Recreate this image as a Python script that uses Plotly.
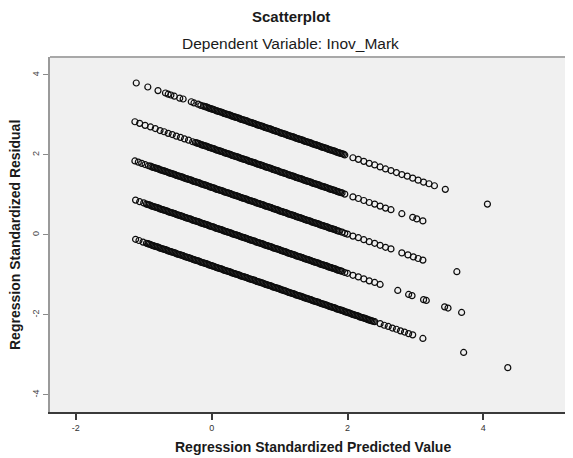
import plotly.graph_objects as go

# ---- tick labels / titles ----
x_ticks = [-2, 0, 2, 4]
y_ticks = [-4, -2, 0, 2, 4]
title_main = "Scatterplot"
title_sub = "Dependent Variable: Inov_Mark"
x_title = "Regression Standardized Predicted Value"
y_title = "Regression Standardized Residual"

# ---- data (predicted value, residual), one band per DV level ----
band1_x = [-1.11, -0.94, -0.79, -0.68, -0.64, -0.60, -0.55, -0.47, -0.42, -0.30, -0.26,
           -0.20, -0.16, -0.12, -0.08, -0.04, 0.00, 0.04, 0.08, 0.12, 0.16, 0.20, 0.24, 0.28, 0.32, 0.36,
           0.40, 0.44, 0.48, 0.52, 0.56, 0.60, 0.64, 0.68, 0.72, 0.76, 0.80, 0.84, 0.88, 0.92, 0.96,
           1.00, 1.04, 1.08, 1.12, 1.16, 1.20, 1.24, 1.28, 1.32, 1.36, 1.40, 1.44, 1.48, 1.52, 1.56,
           1.60, 1.64, 1.68, 1.72, 1.76, 1.80, 1.84, 1.88, 1.92, 1.96,
           2.08, 2.16, 2.24, 2.32, 2.40, 2.48, 2.56, 2.64, 2.72, 2.80, 2.88, 2.96, 3.04, 3.12, 3.20, 3.28,
           3.44, 4.06]
band1_y = [3.80, 3.70, 3.61, 3.55, 3.52, 3.50, 3.47, 3.42, 3.40, 3.33, 3.30,
           3.27, 3.24, 3.22, 3.20, 3.17, 3.15, 3.13, 3.10, 3.08, 3.06, 3.03, 3.01, 2.99, 2.96, 2.94,
           2.92, 2.89, 2.87, 2.85, 2.82, 2.80, 2.78, 2.75, 2.73, 2.71, 2.68, 2.66, 2.64, 2.61, 2.59,
           2.56, 2.54, 2.52, 2.49, 2.47, 2.45, 2.42, 2.40, 2.38, 2.35, 2.33, 2.31, 2.28, 2.26, 2.24,
           2.21, 2.19, 2.17, 2.14, 2.12, 2.10, 2.07, 2.05, 2.03, 2.00,
           1.93, 1.89, 1.84, 1.79, 1.75, 1.70, 1.65, 1.61, 1.56, 1.51, 1.47, 1.42, 1.37, 1.32, 1.28, 1.23,
           1.14, 0.77]
band1_core_x = [-0.10, -0.06, -0.02, 0.02, 0.06, 0.10, 0.14, 0.18, 0.22, 0.26, 0.30, 0.34, 0.38,
                0.42, 0.46, 0.50, 0.54, 0.58, 0.62, 0.66, 0.70, 0.74, 0.78, 0.82, 0.86, 0.90, 0.94, 0.98,
                1.02, 1.06, 1.10, 1.14, 1.18, 1.22, 1.26, 1.30, 1.34, 1.38, 1.42, 1.46, 1.50, 1.54, 1.58,
                1.62, 1.66, 1.70, 1.74, 1.78, 1.82, 1.86, 1.90, 1.94]
band1_core_y = [3.21, 3.19, 3.16, 3.14, 3.11, 3.09, 3.07, 3.04, 3.02, 3.00, 2.97, 2.95, 2.93,
                2.90, 2.88, 2.86, 2.83, 2.81, 2.79, 2.76, 2.74, 2.72, 2.69, 2.67, 2.65, 2.62, 2.60, 2.58,
                2.55, 2.53, 2.51, 2.48, 2.46, 2.44, 2.41, 2.39, 2.37, 2.34, 2.32, 2.30, 2.27, 2.25, 2.23,
                2.20, 2.18, 2.16, 2.13, 2.11, 2.09, 2.06, 2.04, 2.02]

band2_x = [-1.13, -1.06, -0.98, -0.90, -0.83, -0.76, -0.70, -0.64, -0.58, -0.52, -0.46, -0.40, -0.34,
           -0.28, -0.24,
           -0.20, -0.16, -0.12, -0.08, -0.04, 0.00, 0.04, 0.08, 0.12, 0.16, 0.20, 0.24, 0.28, 0.32, 0.36,
           0.40, 0.44, 0.48, 0.52, 0.56, 0.60, 0.64, 0.68, 0.72, 0.76, 0.80, 0.84, 0.88, 0.92, 0.96,
           1.00, 1.04, 1.08, 1.12, 1.16, 1.20, 1.24, 1.28, 1.32, 1.36, 1.40, 1.44, 1.48, 1.52, 1.56,
           1.60, 1.64, 1.68, 1.72, 1.76, 1.80, 1.84, 1.88, 1.92, 1.96,
           2.08, 2.16, 2.24, 2.32, 2.40, 2.48, 2.56, 2.64, 2.80, 2.96, 3.02, 3.11]
band2_y = [2.83, 2.79, 2.74, 2.70, 2.66, 2.61, 2.58, 2.54, 2.51, 2.47, 2.44, 2.40, 2.37,
           2.33, 2.31,
           2.29, 2.26, 2.24, 2.22, 2.19, 2.17, 2.15, 2.12, 2.10, 2.08, 2.05, 2.03, 2.01, 1.98, 1.96,
           1.94, 1.91, 1.89, 1.87, 1.84, 1.82, 1.80, 1.77, 1.75, 1.73, 1.70, 1.68, 1.66, 1.63, 1.61,
           1.58, 1.56, 1.54, 1.51, 1.49, 1.47, 1.44, 1.42, 1.40, 1.37, 1.35, 1.33, 1.30, 1.28, 1.26,
           1.23, 1.21, 1.19, 1.16, 1.14, 1.12, 1.09, 1.07, 1.05, 1.02,
           0.95, 0.91, 0.86, 0.81, 0.77, 0.72, 0.67, 0.63, 0.53, 0.44, 0.40, 0.35]
band2_core_x = [-0.22, -0.18, -0.14, -0.10, -0.06, -0.02, 0.02, 0.06, 0.10, 0.14, 0.18, 0.22, 0.26,
                0.30, 0.34, 0.38, 0.42, 0.46, 0.50, 0.54, 0.58, 0.62, 0.66, 0.70, 0.74, 0.78, 0.82, 0.86,
                0.90, 0.94, 0.98, 1.02, 1.06, 1.10, 1.14, 1.18, 1.22, 1.26, 1.30, 1.34, 1.38, 1.42, 1.46,
                1.50, 1.54, 1.58, 1.62, 1.66, 1.70, 1.74, 1.78, 1.82, 1.86, 1.90]
band2_core_y = [2.30, 2.28, 2.25, 2.23, 2.21, 2.18, 2.16, 2.13, 2.11, 2.09, 2.06, 2.04, 2.02,
                1.99, 1.97, 1.95, 1.92, 1.90, 1.88, 1.85, 1.83, 1.81, 1.78, 1.76, 1.74, 1.71, 1.69, 1.67,
                1.64, 1.62, 1.60, 1.57, 1.55, 1.53, 1.50, 1.48, 1.46, 1.43, 1.41, 1.39, 1.36, 1.34, 1.32,
                1.29, 1.27, 1.25, 1.22, 1.20, 1.18, 1.15, 1.13, 1.11, 1.08, 1.06]

band3_x = [-1.13, -1.08, -1.03, -0.98, -0.93,
           -0.88, -0.84, -0.80, -0.76, -0.72, -0.68, -0.64, -0.60, -0.56, -0.52, -0.48, -0.44, -0.40,
           -0.36, -0.32, -0.28, -0.24,
           -0.20, -0.16, -0.12, -0.08, -0.04, 0.00, 0.04, 0.08, 0.12, 0.16, 0.20, 0.24, 0.28, 0.32, 0.36,
           0.40, 0.44, 0.48, 0.52, 0.56, 0.60, 0.64, 0.68, 0.72, 0.76, 0.80, 0.84, 0.88, 0.92, 0.96,
           1.00, 1.04, 1.08, 1.12, 1.16, 1.20, 1.24, 1.28, 1.32, 1.36, 1.40, 1.44, 1.48, 1.52, 1.56,
           1.60, 1.64, 1.68, 1.72, 1.76, 1.80, 1.84, 1.88, 1.92, 1.96, 2.00,
           2.08, 2.16, 2.24, 2.32, 2.40, 2.48, 2.56, 2.64, 2.80, 2.89, 2.97, 3.04, 3.11, 3.61]
band3_y = [1.85, 1.82, 1.79, 1.76, 1.73,
           1.70, 1.68, 1.66, 1.63, 1.61, 1.59, 1.56, 1.54, 1.52, 1.49, 1.47, 1.45, 1.42,
           1.40, 1.38, 1.35, 1.33,
           1.31, 1.28, 1.26, 1.24, 1.21, 1.19, 1.17, 1.14, 1.12, 1.10, 1.07, 1.05, 1.03, 1.00, 0.98,
           0.96, 0.93, 0.91, 0.89, 0.86, 0.84, 0.82, 0.79, 0.77, 0.75, 0.72, 0.70, 0.68, 0.65, 0.63,
           0.60, 0.58, 0.56, 0.53, 0.51, 0.49, 0.46, 0.44, 0.42, 0.39, 0.37, 0.35, 0.32, 0.30, 0.28,
           0.25, 0.23, 0.21, 0.18, 0.16, 0.14, 0.11, 0.09, 0.07, 0.04, 0.02,
           -0.03, -0.07, -0.12, -0.17, -0.21, -0.26, -0.31, -0.35, -0.45, -0.50, -0.55, -0.59, -0.63, -0.92]
band3_core_x = [-0.90, -0.86, -0.82, -0.78, -0.74, -0.70, -0.66, -0.62, -0.58, -0.54, -0.50, -0.46,
                -0.42, -0.38, -0.34, -0.30, -0.26, -0.22, -0.18, -0.14,
                -0.10, -0.06, -0.02, 0.02, 0.06, 0.10, 0.14, 0.18, 0.22, 0.26, 0.30, 0.34, 0.38,
                0.42, 0.46, 0.50, 0.54, 0.58, 0.62, 0.66, 0.70, 0.74, 0.78, 0.82, 0.86, 0.90, 0.94, 0.98,
                1.02, 1.06, 1.10, 1.14, 1.18, 1.22, 1.26, 1.30, 1.34, 1.38, 1.42, 1.46, 1.50, 1.54, 1.58,
                1.62, 1.66, 1.70, 1.74, 1.78, 1.82, 1.86]
band3_core_y = [1.72, 1.69, 1.67, 1.65, 1.62, 1.60, 1.58, 1.55, 1.53, 1.51, 1.48, 1.46,
                1.44, 1.41, 1.39, 1.37, 1.34, 1.32, 1.30, 1.27,
                1.25, 1.23, 1.20, 1.18, 1.15, 1.13, 1.11, 1.08, 1.06, 1.04, 1.01, 0.99, 0.97,
                0.94, 0.92, 0.90, 0.87, 0.85, 0.83, 0.80, 0.78, 0.76, 0.73, 0.71, 0.69, 0.66, 0.64, 0.62,
                0.59, 0.57, 0.55, 0.52, 0.50, 0.48, 0.45, 0.43, 0.41, 0.38, 0.36, 0.34, 0.31, 0.29, 0.27,
                0.24, 0.22, 0.20, 0.17, 0.15, 0.13, 0.10]

band4_x = [-1.12, -1.06, -1.00,
           -0.96, -0.92,
           -0.88, -0.84, -0.80, -0.76, -0.72, -0.68, -0.64, -0.60, -0.56, -0.52, -0.48, -0.44, -0.40,
           -0.36, -0.32, -0.28, -0.24,
           -0.20, -0.16, -0.12, -0.08, -0.04, 0.00, 0.04, 0.08, 0.12, 0.16, 0.20, 0.24, 0.28, 0.32, 0.36,
           0.40, 0.44, 0.48, 0.52, 0.56, 0.60, 0.64, 0.68, 0.72, 0.76, 0.80, 0.84, 0.88, 0.92, 0.96,
           1.00, 1.04, 1.08, 1.12, 1.16, 1.20, 1.24, 1.28, 1.32, 1.36, 1.40, 1.44, 1.48, 1.52, 1.56,
           1.60, 1.64, 1.68, 1.72, 1.76, 1.80, 1.84, 1.88, 1.92, 1.96, 2.00,
           2.08, 2.16, 2.24, 2.32, 2.40, 2.48, 2.74, 2.90, 2.95, 3.12, 3.16, 3.43, 3.48, 3.68]
band4_y = [0.87, 0.83, 0.80,
           0.77, 0.75,
           0.72, 0.70, 0.68, 0.65, 0.63, 0.61, 0.58, 0.56, 0.54, 0.51, 0.49, 0.47, 0.44,
           0.42, 0.40, 0.37, 0.35,
           0.33, 0.30, 0.28, 0.26, 0.23, 0.21, 0.19, 0.16, 0.14, 0.12, 0.09, 0.07, 0.05, 0.02, 0.00,
           -0.02, -0.05, -0.07, -0.09, -0.12, -0.14, -0.16, -0.19, -0.21, -0.23, -0.26, -0.28, -0.30, -0.33, -0.35,
           -0.37, -0.40, -0.42, -0.45, -0.47, -0.49, -0.52, -0.54, -0.56, -0.59, -0.61, -0.63, -0.66, -0.68, -0.70,
           -0.73, -0.75, -0.77, -0.80, -0.82, -0.84, -0.87, -0.89, -0.91, -0.94, -0.96,
           -1.01, -1.05, -1.10, -1.15, -1.19, -1.24, -1.39, -1.49, -1.52, -1.62, -1.64, -1.80, -1.83, -1.94]
band4_core_x = [-0.94, -0.90, -0.86, -0.82, -0.78, -0.74, -0.70, -0.66, -0.62, -0.58, -0.54, -0.50, -0.46,
                -0.42, -0.38, -0.34, -0.30, -0.26, -0.22, -0.18, -0.14,
                -0.10, -0.06, -0.02, 0.02, 0.06, 0.10, 0.14, 0.18, 0.22, 0.26, 0.30, 0.34, 0.38,
                0.42, 0.46, 0.50, 0.54, 0.58, 0.62, 0.66, 0.70, 0.74, 0.78, 0.82, 0.86, 0.90, 0.94, 0.98,
                1.02, 1.06, 1.10, 1.14, 1.18, 1.22, 1.26, 1.30, 1.34, 1.38, 1.42, 1.46, 1.50, 1.54, 1.58,
                1.62, 1.66, 1.70, 1.74, 1.78, 1.82, 1.86, 1.90]
band4_core_y = [0.76, 0.74, 0.71, 0.69, 0.67, 0.64, 0.62, 0.60, 0.57, 0.55, 0.53, 0.50, 0.48,
                0.46, 0.43, 0.41, 0.39, 0.36, 0.34, 0.32, 0.29,
                0.27, 0.25, 0.22, 0.20, 0.17, 0.15, 0.13, 0.10, 0.08, 0.06, 0.03, 0.01, -0.01,
                -0.04, -0.06, -0.08, -0.11, -0.13, -0.15, -0.18, -0.20, -0.22, -0.25, -0.27, -0.29, -0.32, -0.34, -0.36,
                -0.39, -0.41, -0.43, -0.46, -0.48, -0.50, -0.53, -0.55, -0.57, -0.60, -0.62, -0.64, -0.67, -0.69, -0.71,
                -0.74, -0.76, -0.78, -0.81, -0.83, -0.85, -0.88, -0.90]

band5_x = [-1.12, -1.07, -1.01,
           -0.96, -0.92,
           -0.88, -0.84, -0.80, -0.76, -0.72, -0.68, -0.64, -0.60, -0.56, -0.52, -0.48, -0.44, -0.40,
           -0.36, -0.32, -0.28, -0.24,
           -0.20, -0.16, -0.12, -0.08, -0.04, 0.00, 0.04, 0.08, 0.12, 0.16, 0.20, 0.24, 0.28, 0.32, 0.36,
           0.40, 0.44, 0.48, 0.52, 0.56, 0.60, 0.64, 0.68, 0.72, 0.76, 0.80, 0.84, 0.88, 0.92, 0.96,
           1.00, 1.04, 1.08, 1.12, 1.16, 1.20, 1.24, 1.28, 1.32, 1.36, 1.40, 1.44, 1.48, 1.52, 1.56,
           1.60, 1.64, 1.68, 1.72, 1.76, 1.80, 1.84, 1.88, 1.92, 1.96, 2.00,
           2.04, 2.08, 2.12, 2.16, 2.20, 2.24, 2.28, 2.32, 2.36, 2.40,
           2.48, 2.54, 2.60, 2.66, 2.72, 2.78, 2.84, 2.90, 2.96, 3.11, 3.71, 4.36]
band5_y = [-0.11, -0.14, -0.18,
           -0.21, -0.23,
           -0.26, -0.28, -0.30, -0.33, -0.35, -0.37, -0.40, -0.42, -0.44, -0.47, -0.49, -0.51, -0.54,
           -0.56, -0.58, -0.61, -0.63,
           -0.65, -0.68, -0.70, -0.72, -0.75, -0.77, -0.79, -0.82, -0.84, -0.86, -0.89, -0.91, -0.93, -0.96, -0.98,
           -1.00, -1.03, -1.05, -1.07, -1.10, -1.12, -1.14, -1.17, -1.19, -1.21, -1.24, -1.26, -1.28, -1.31, -1.33,
           -1.35, -1.38, -1.40, -1.43, -1.45, -1.47, -1.50, -1.52, -1.54, -1.57, -1.59, -1.61, -1.64, -1.66, -1.68,
           -1.71, -1.73, -1.75, -1.78, -1.80, -1.82, -1.85, -1.87, -1.89, -1.92, -1.94,
           -1.96, -1.99, -2.01, -2.03, -2.06, -2.08, -2.10, -2.13, -2.15, -2.17,
           -2.22, -2.26, -2.29, -2.33, -2.36, -2.40, -2.43, -2.47, -2.50, -2.59, -2.94, -3.32]
band5_core_x = [-0.94, -0.90, -0.86, -0.82, -0.78, -0.74, -0.70, -0.66, -0.62, -0.58, -0.54, -0.50, -0.46,
                -0.42, -0.38, -0.34, -0.30, -0.26, -0.22, -0.18, -0.14,
                -0.10, -0.06, -0.02, 0.02, 0.06, 0.10, 0.14, 0.18, 0.22, 0.26, 0.30, 0.34, 0.38,
                0.42, 0.46, 0.50, 0.54, 0.58, 0.62, 0.66, 0.70, 0.74, 0.78, 0.82, 0.86, 0.90, 0.94, 0.98,
                1.02, 1.06, 1.10, 1.14, 1.18, 1.22, 1.26, 1.30, 1.34, 1.38, 1.42, 1.46, 1.50, 1.54, 1.58,
                1.62, 1.66, 1.70, 1.74, 1.78, 1.82, 1.86, 1.90, 1.94, 1.98, 2.02, 2.06, 2.10, 2.14,
                2.18, 2.22, 2.26, 2.30, 2.34, 2.38]
band5_core_y = [-0.22, -0.24, -0.27, -0.29, -0.31, -0.34, -0.36, -0.38, -0.41, -0.43, -0.45, -0.48, -0.50,
                -0.52, -0.55, -0.57, -0.59, -0.62, -0.64, -0.66, -0.69,
                -0.71, -0.73, -0.76, -0.78, -0.81, -0.83, -0.85, -0.88, -0.90, -0.92, -0.95, -0.97, -0.99,
                -1.02, -1.04, -1.06, -1.09, -1.11, -1.13, -1.16, -1.18, -1.20, -1.23, -1.25, -1.27, -1.30, -1.32, -1.34,
                -1.37, -1.39, -1.41, -1.44, -1.46, -1.48, -1.51, -1.53, -1.55, -1.58, -1.60, -1.62, -1.65, -1.67, -1.69,
                -1.72, -1.74, -1.76, -1.79, -1.81, -1.83, -1.86, -1.88, -1.90, -1.93, -1.95, -1.98, -2.00, -2.02,
                -2.05, -2.07, -2.09, -2.12, -2.14, -2.16]

bands = [
    (band1_x + band1_core_x, band1_y + band1_core_y),
    (band2_x + band2_core_x, band2_y + band2_core_y),
    (band3_x + band3_core_x, band3_y + band3_core_y),
    (band4_x + band4_core_x, band4_y + band4_core_y),
    (band5_x + band5_core_x, band5_y + band5_core_y),
]
for bx, by in bands:
    assert len(bx) == len(by), (len(bx), len(by))

FONT = "Liberation Sans, Arial, sans-serif"

fig = go.Figure()
for bx, by in bands:
    fig.add_trace(go.Scatter(
        x=bx, y=by, mode="markers", showlegend=False, hoverinfo="x+y",
        marker=dict(symbol="circle-open", size=6, color="#0d0d0d",
                    line=dict(width=1.2, color="#0d0d0d")),
    ))

# The page body adds an 8px offset, so the figure is sized to end at the window edge.
fig.update_layout(
    width=565, height=450,
    margin=dict(l=42, r=0, t=49, b=46),
    paper_bgcolor="white",
    plot_bgcolor="#f0f0f0",
    font=dict(family=FONT, color="#222222"),
    xaxis=dict(
        range=[-2.38, 5.32], tickvals=x_ticks, ticktext=[str(v) for v in x_ticks],
        showgrid=False, zeroline=False,
        showline=True, linecolor="#3a3a3a", linewidth=2,
        ticks="outside", ticklen=6, tickwidth=1.5, tickcolor="#3a3a3a",
        tickfont=dict(size=9, color="#333333"),
    ),
    yaxis=dict(
        range=[-4.43, 4.45], tickvals=y_ticks, ticktext=[str(v) for v in y_ticks],
        showgrid=False, zeroline=False,
        showline=True, linecolor="#9a9a9a", linewidth=2,
        ticks="outside", ticklen=5, tickwidth=1, tickcolor="#8a8a8a",
        tickangle=-90,
        tickfont=dict(size=9, color="#444444"),
    ),
    shapes=[dict(type="line", xref="paper", yref="paper", x0=0, x1=1, y0=1, y1=1,
                 line=dict(color="#a8a8a8", width=2))],
    annotations=[
        dict(text="<b>" + title_main + "</b>", xref="paper", yref="paper",
             x=0.4608, y=1.1127, xanchor="center", yanchor="middle", showarrow=False,
             font=dict(size=15, family=FONT, color="#1a1a1a")),
        dict(text=title_sub, xref="paper", yref="paper",
             x=0.4608, y=1.0394, xanchor="center", yanchor="middle", showarrow=False,
             font=dict(size=15.5, family=FONT, color="#1a1a1a")),
        dict(text="<b>" + x_title + "</b>", xref="paper", yref="paper",
             x=0.503, y=-0.0986, xanchor="center", yanchor="middle", showarrow=False,
             font=dict(size=14, family=FONT, color="#1a1a1a")),
        dict(text="<b>" + y_title + "</b>", xref="paper", yref="paper",
             x=-0.0669, y=0.4986, xanchor="center", yanchor="middle", showarrow=False,
             textangle=-90, font=dict(size=14, family=FONT, color="#1a1a1a")),
    ],
)

fig.write_html("out.html")
